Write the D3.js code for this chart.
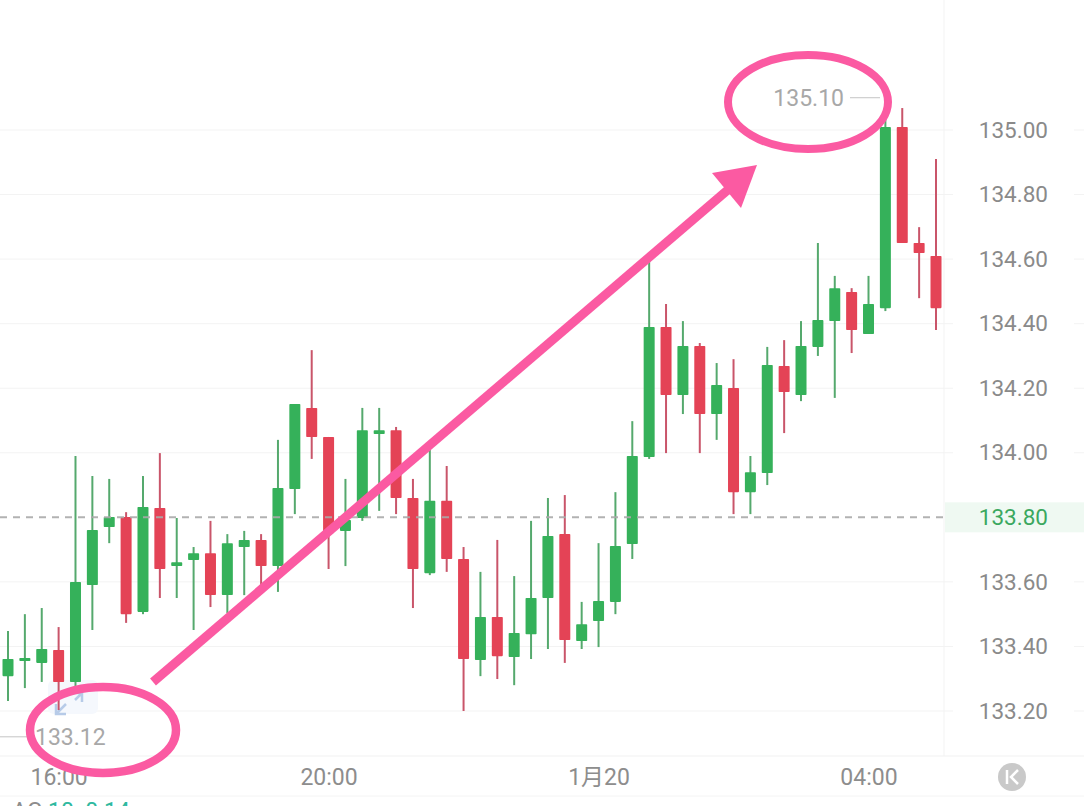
<!DOCTYPE html>
<html>
<head>
<meta charset="utf-8">
<script src="https://cdn.jsdelivr.net/npm/d3@7"></script>
<style>
html, body { margin: 0; padding: 0; background: #fff; overflow: hidden; }
svg { display: block; }
text { font-family: Roboto, "Noto Sans CJK SC", sans-serif; }
</style>
</head>
<body>
<div id="chart"></div>
<script>
// 15 minute candles
var opens = [133.308,133.355,133.349,133.389,133.290,133.590,133.770,133.801,133.507,133.829,133.649,133.668,133.689,133.559,133.708,133.730,
    133.649,133.888,134.139,134.049,133.758,133.798,134.058,134.070,133.860,133.627,133.851,133.671,133.358,133.491,133.367,133.438,
    133.550,133.748,133.417,133.479,133.538,133.717,133.987,134.390,134.179,134.331,134.120,134.201,133.878,133.937,134.269,134.179,
    134.328,134.408,134.498,134.368,134.448,135.009,134.650,134.610];
var closes = [133.361,133.364,133.392,133.290,133.600,133.761,133.801,133.500,133.832,133.640,133.661,133.689,133.559,133.720,133.730,133.649,
    133.891,134.151,134.049,133.751,133.792,134.070,134.070,133.860,133.640,133.851,133.671,133.361,133.491,133.370,133.442,133.550,
    133.742,133.420,133.469,133.541,133.711,133.990,134.390,134.179,134.331,134.120,134.210,133.878,133.940,134.272,134.188,134.331,
    134.411,134.510,134.380,134.461,135.009,134.650,134.619,134.448];
var highs = [133.448,133.500,133.519,133.460,133.990,133.928,133.919,133.816,133.928,133.999,133.798,133.708,133.789,133.748,133.758,133.748,
    134.040,134.151,134.318,134.049,133.919,134.139,134.139,134.080,133.919,134.009,133.959,133.708,133.631,133.730,133.618,133.789,
    133.860,133.869,133.538,133.720,133.878,134.098,134.597,134.461,134.408,134.340,134.278,134.290,133.990,134.328,134.349,134.408,
    134.650,134.548,134.510,134.548,135.100,135.068,134.699,134.910];
var lows = [133.231,133.271,133.290,133.203,133.274,133.451,133.720,133.473,133.500,133.550,133.550,133.451,133.522,133.503,133.559,133.590,
    133.569,133.810,133.981,133.640,133.649,133.789,133.820,133.810,133.519,133.621,133.631,133.200,133.308,133.299,133.280,133.361,
    133.392,133.349,133.392,133.398,133.500,133.671,133.981,133.999,134.120,133.999,134.040,133.810,133.810,133.900,134.061,134.160,
    134.300,134.170,134.309,134.368,134.439,134.650,134.479,134.380];

var priceTicks = [133.2,133.4,133.6,133.8,134.0,134.2,134.4,134.6,134.8,135.0];
var timeIndex = [3,19,35,51];
var timeLabels = ["16:00","20:00","1月20","04:00"];
var lastPrice = 133.80;
var maxPrice = 135.10;   // index 52
var minPrice = 133.12;

var totalWidth = 1084, totalHeight = 806;
var plotRight = 944, plotBottom = 756;

var green = "#35b15a", red = "#e44356";
var greenWick = "#55a96d", redWick = "#c9556a";
var pink = "#fb5aa2";

var svg = d3.select("#chart").append("svg")
    .attr("width", totalWidth)
    .attr("height", totalHeight);

var xSca = d3.scaleLinear().domain([0, opens.length - 1]).range([8, 936]);
var ySca = d3.scaleLinear().domain([133.2, 135.0]).range([711, 130]);

// gridlines + price labels
var yAxis = d3.axisLeft(ySca)
    .tickValues(priceTicks)
    .tickSize(0)
    .tickFormat(d3.format(".2f"));

// grid first so the candles sit on top
var grid = svg.append("g");
grid.selectAll(".grid")
    .data(priceTicks.filter(function(d){ return d != lastPrice; }))
    .enter().append("line")
    .attr("class", "grid")
    .attr("x1", 0)
    .attr("x2", 953)
    .attr("y1", function(d){ return ySca(d); })
    .attr("y2", function(d){ return ySca(d); })
    .style("stroke", "#f3f3f3");
grid.selectAll(".stub")
    .data(priceTicks.filter(function(d){ return d != lastPrice; }))
    .enter().append("line")
    .attr("class", "stub")
    .attr("x1", 1074)
    .attr("x2", totalWidth)
    .attr("y1", function(d){ return ySca(d); })
    .attr("y2", function(d){ return ySca(d); })
    .style("stroke", "#f3f3f3");

// frame lines
grid.append("line").attr("x1", plotRight).attr("x2", plotRight).attr("y1", 0).attr("y2", plotBottom).style("stroke", "#f3f3f3");
grid.append("line").attr("x1", 0).attr("x2", totalWidth).attr("y1", plotBottom).attr("y2", plotBottom).style("stroke", "#f1f1f1");
grid.append("line").attr("x1", 0).attr("x2", totalWidth).attr("y1", 796).attr("y2", 796).style("stroke", "#f4f4f4");

// last price band
svg.append("rect")
    .attr("x", plotRight + 1)
    .attr("y", ySca(lastPrice) - 15)
    .attr("width", totalWidth - plotRight)
    .attr("height", 30)
    .style("fill", "#eff9f2");

var yAA = svg.append("g")
    .attr("transform", "translate(1048,0)")
    .call(yAxis);
yAA.select(".domain").remove();
yAA.selectAll("text")
    .attr("x", 0)
    .style("font-size", "22.5px")
    .style("fill", function(d){ return d == lastPrice ? "#3ba85f" : "#8a8a8a"; });

var xAxis = d3.axisBottom(xSca)
    .tickValues(timeIndex)
    .tickSize(0)
    .tickFormat(function(d, i){ return timeLabels[i]; });

var xAA = svg.append("g")
    .attr("transform", "translate(0," + plotBottom + ")")
    .call(xAxis);
xAA.select(".domain").remove();
xAA.selectAll("text")
    .attr("y", 13)
    .style("font-size", "23px")
    .style("fill", "#8d8d8d");

// faint crosshair badge under the first candles
var badge = svg.append("g");
badge.append("rect")
    .attr("x", 48).attr("y", 680).attr("width", 50).attr("height", 34).attr("rx", 6)
    .style("fill", "#f5f8fd");
badge.append("path")
    .attr("d", "M56 704L56 714L66 714M56 714L66 704M73 693L82 693L82 702M82 693L75 700")
    .style("fill", "none")
    .style("stroke", "#b7cbe8")
    .style("stroke-width", 2.5);

// candles
var idx = d3.range(opens.length);
var isUp = function(i){ return closes[i] >= opens[i]; };

svg.selectAll(".wick")
    .data(idx)
    .enter().append("line")
    .attr("class", "wick")
    .attr("x1", function(i){ return xSca(i); })
    .attr("x2", function(i){ return xSca(i); })
    .attr("y1", function(i){ return ySca(highs[i]); })
    .attr("y2", function(i){ return ySca(lows[i]); })
    .style("stroke", function(i){ return isUp(i) ? greenWick : redWick; })
    .style("stroke-width", 2);

svg.selectAll(".body")
    .data(idx)
    .enter().append("rect")
    .attr("class", "body")
    .attr("x", function(i){ return xSca(i) - 5.5; })
    .attr("width", 11)
    .attr("y", function(i){ return ySca(Math.max(opens[i], closes[i])); })
    .attr("height", function(i){ return Math.abs(ySca(opens[i]) - ySca(closes[i])); })
    .attr("rx", 0.8)
    .style("fill", function(i){ return isUp(i) ? green : red; });

// last price dashed line
svg.append("line")
    .attr("x1", 0)
    .attr("x2", plotRight)
    .attr("y1", ySca(lastPrice))
    .attr("y2", ySca(lastPrice))
    .style("stroke", "#aaa")
    .style("stroke-width", 2)
    .style("stroke-dasharray", "7,6")
    .style("opacity", 0.9);

// high and low markers
svg.append("line")
    .attr("x1", 850).attr("x2", 880)
    .attr("y1", ySca(maxPrice)).attr("y2", ySca(maxPrice))
    .style("stroke", "#c4c4c4");
svg.append("text")
    .attr("x", 844).attr("y", ySca(maxPrice) + 8.5)
    .style("text-anchor", "end")
    .style("font-size", "23px")
    .style("fill", "#a8a8a8")
    .text(maxPrice.toFixed(2));

svg.append("line")
    .attr("x1", 0).attr("x2", 30)
    .attr("y1", ySca(minPrice)).attr("y2", ySca(minPrice))
    .style("stroke", "#c4c4c4");
svg.append("text")
    .attr("x", 35).attr("y", ySca(minPrice) + 8.5)
    .style("font-size", "23px")
    .style("fill", "#a8a8a8")
    .text(minPrice.toFixed(2));

// collapse button
svg.append("circle").attr("cx", 1012).attr("cy", 777).attr("r", 14).style("fill", "#c9c9c9");
svg.append("path")
    .attr("d", "M1007 770L1007 784M1018 770L1011 777L1018 784")
    .style("fill", "none")
    .style("stroke", "#fff")
    .style("stroke-width", 2.5);

// indicator row, cut off by the bottom edge like the screenshot
svg.append("text").attr("x", 12).attr("y", 819).style("font-size", "23px").style("fill", "#8d8d8d").text("AG");
svg.append("text").attr("x", 48).attr("y", 819).style("font-size", "23px").style("fill", "#2fb9a0").text("10: 0.14");

// hand drawn annotation
svg.append("line")
    .attr("x1", 153).attr("y1", 682)
    .attr("x2", 730).attr("y2", 188)
    .style("stroke", pink)
    .style("stroke-width", 9);
svg.append("path")
    .attr("d", "M757 165L712 173L741 208Z")
    .style("fill", pink);
svg.append("ellipse")
    .attr("cx", 808).attr("cy", 102).attr("rx", 80).attr("ry", 47)
    .style("fill", "none")
    .style("stroke", pink)
    .style("stroke-width", 8);
svg.append("ellipse")
    .attr("cx", 103).attr("cy", 730).attr("rx", 73).attr("ry", 43)
    .style("fill", "none")
    .style("stroke", pink)
    .style("stroke-width", 8.5);
</script>
</body>
</html>
